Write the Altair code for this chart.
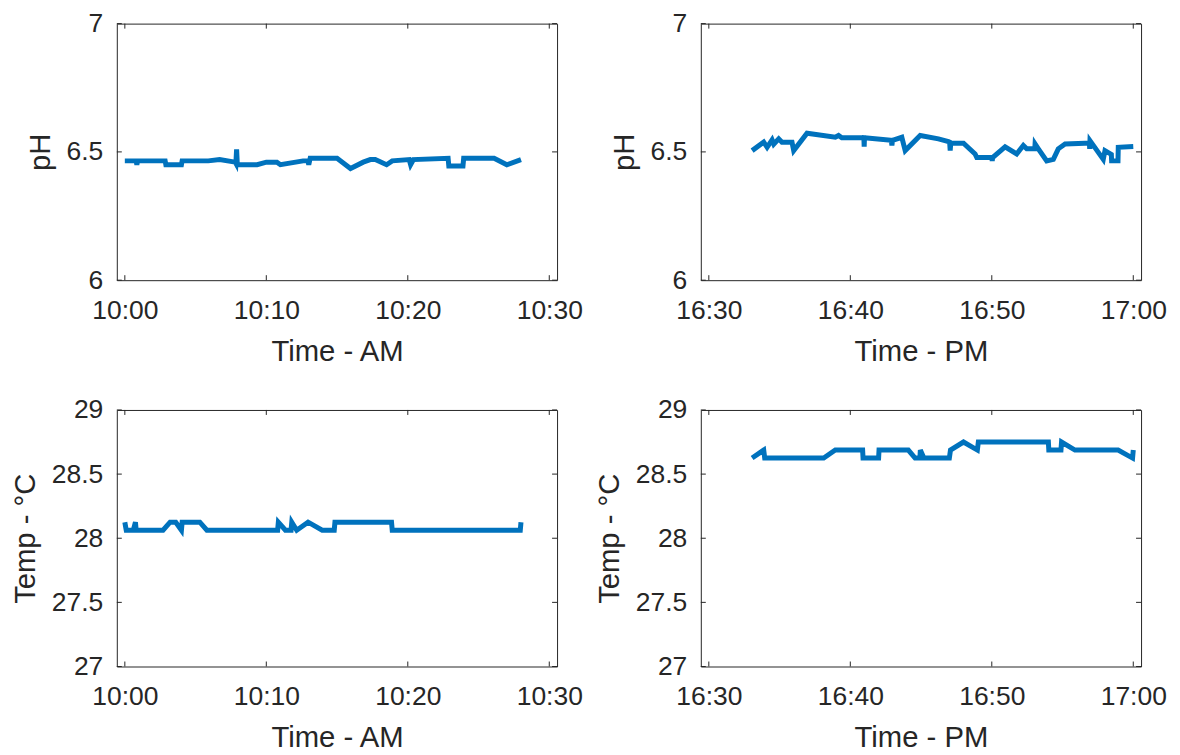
import altair as alt
import pandas as pd

# ---------------- data (minutes after start hour, values) ----------------
am_ticks = ["10:00", "10:10", "10:20", "10:30"]
pm_ticks = ["16:30", "16:40", "16:50", "17:00"]
ph_ticks = [6, 6.5, 7]
temp_ticks = [27, 27.5, 28, 28.5, 29]

am_ph_min = [0, 0.8, 0.85, 0.9, 2.85, 2.9, 4.0, 4.05, 5.9, 6.7, 7.8, 7.85, 7.9, 7.95,
             9.35, 10.0, 10.75, 11.0, 12.6, 12.95, 13.0, 13.1, 15.0, 15.95, 16.85, 17.35,
             17.7, 18.5, 18.9, 20.1, 20.2, 20.4, 22.85, 22.9, 23.9, 23.95, 26.1, 27.0, 28.0]
am_ph_val = [6.465, 6.465, 6.45, 6.465, 6.465, 6.45, 6.45, 6.465, 6.465, 6.47, 6.46, 6.455, 6.51, 6.45,
             6.45, 6.46, 6.46, 6.45, 6.465, 6.465, 6.45, 6.475, 6.475, 6.435, 6.46, 6.47,
             6.47, 6.45, 6.465, 6.47, 6.45, 6.47, 6.475, 6.445, 6.445, 6.475, 6.475, 6.45, 6.47]

pm_ph_min = [3.06, 3.88, 4.12, 4.47, 4.59, 4.94, 5.17, 5.88, 6.0, 6.94, 8.94, 9.17, 9.4,
             10.96, 10.98, 11.0, 12.9, 12.94, 12.98, 13.64, 13.88, 14.94, 16.23, 16.94,
             17.02, 17.06, 17.1, 18.0, 18.82, 18.94, 20.0, 20.03, 20.06, 20.94, 21.76,
             22.23, 22.47, 23.04, 23.06, 23.29, 23.88, 24.35, 24.7, 25.18, 26.59, 26.9,
             26.92, 26.94, 27.88, 28.0, 28.45, 28.47, 28.92, 28.94, 30.0]
pm_ph_val = [6.505, 6.538, 6.518, 6.547, 6.53, 6.551, 6.538, 6.538, 6.505, 6.573, 6.557, 6.564, 6.555,
             6.555, 6.52, 6.555, 6.545, 6.525, 6.545, 6.557, 6.505, 6.564, 6.551, 6.54,
             6.538, 6.505, 6.534, 6.534, 6.492, 6.478, 6.478, 6.465, 6.478, 6.52, 6.492,
             6.525, 6.512, 6.512, 6.531, 6.512, 6.465, 6.471, 6.512, 6.531, 6.534, 6.534,
             6.512, 6.544, 6.471, 6.505, 6.49, 6.465, 6.465, 6.518, 6.521]

am_temp_min = [0, 0.1, 0.6, 0.75, 0.8, 2.7, 3.2, 3.6, 4.0, 4.05, 5.3, 5.8, 10.8, 10.85,
               11.35, 11.75, 11.8, 12.15, 12.95, 13.95, 14.8, 14.85, 18.85, 18.9, 27.95, 28.0]
am_temp_val = [28.125, 28.0625, 28.0625, 28.125, 28.0625, 28.0625, 28.125, 28.125, 28.0625, 28.125,
               28.125, 28.0625, 28.0625, 28.125, 28.0625, 28.0625, 28.125, 28.0625, 28.125, 28.0625,
               28.0625, 28.125, 28.125, 28.0625, 28.0625, 28.125]

pm_temp_min = [3.06, 3.88, 3.95, 8.12, 8.94, 10.87, 10.9, 12.0, 12.03, 14.1, 14.58, 14.92,
               14.95, 15.2, 17.0, 17.08, 18.0, 18.98, 19.05, 24.0, 24.03, 24.89, 24.93,
               25.88, 28.93, 29.95, 30.0]
pm_temp_val = [28.625, 28.6875, 28.625, 28.625, 28.6875, 28.6875, 28.625, 28.625, 28.6875,
               28.6875, 28.625, 28.625, 28.6875, 28.625, 28.625, 28.6875, 28.75, 28.6875, 28.75,
               28.75, 28.6875, 28.6875, 28.75, 28.6875, 28.6875, 28.625, 28.6875]

# ---------------- styling ----------------
BLUE = "#0072BD"
AX = "#262626"
FONT = "Liberation Sans"
W, H = 441, 257
TICK = 5
DAY = "2020-01-01"


def stamp(base, m):
    ts = pd.Timestamp(f"{DAY} {base}") + pd.Timedelta(minutes=m)
    return ts.strftime("%Y-%m-%dT%H:%M:%S.%f")[:-3]


def dt(hhmm, sec_offset=0):
    ts = pd.Timestamp(f"{DAY} {hhmm}") + pd.Timedelta(seconds=sec_offset)
    return alt.DateTime(year=int(ts.year), month=int(ts.month), date=int(ts.day),
                        hours=int(ts.hour), minutes=int(ts.minute), seconds=int(ts.second))


def panel(base, mins, vals, ticks, ydom, yticks, ytitle, xtitle):
    df = pd.DataFrame({"t": [stamp(base, m) for m in mins], "v": vals})
    xscale = alt.Scale(domain=[dt(ticks[0], -34), dt(ticks[-1], 33)])
    yscale = alt.Scale(domain=ydom, zero=False, nice=False)
    xaxis = alt.Axis(values=[dt(t) for t in ticks], format="%H:%M", title=xtitle,
                     labelPadding=17, titlePadding=14)
    yaxis = alt.Axis(values=yticks, format="~g", title=ytitle,
                     labelPadding=14, titlePadding=11)
    bx = alt.X("t:T", scale=xscale, axis=xaxis)
    by = alt.Y("v:Q", scale=yscale, axis=yaxis)
    line = alt.Chart(df).mark_line(color=BLUE, strokeWidth=5, strokeJoin="miter").encode(
        x=bx, y=by,
    )
    xt = pd.DataFrame({"t": [stamp(t, 0) for t in ticks]})
    yt = pd.DataFrame({"v": yticks})
    rules = [
        alt.Chart(xt).mark_rule(color=AX, strokeWidth=1).encode(x=bx, y=alt.value(H), y2=alt.value(H - TICK)),
        alt.Chart(xt).mark_rule(color=AX, strokeWidth=1).encode(x=bx, y=alt.value(0), y2=alt.value(TICK)),
        alt.Chart(yt).mark_rule(color=AX, strokeWidth=1).encode(y=by, x=alt.value(0), x2=alt.value(TICK)),
        alt.Chart(yt).mark_rule(color=AX, strokeWidth=1).encode(y=by, x=alt.value(W - TICK), x2=alt.value(W)),
    ]
    return alt.layer(line, *rules).properties(width=W, height=H)


p1 = panel("10:00", am_ph_min, am_ph_val, am_ticks, [6, 7], ph_ticks, "pH", "Time - AM")
p2 = panel("16:30", pm_ph_min, pm_ph_val, pm_ticks, [6, 7], ph_ticks, "pH", "Time - PM")
p3 = panel("10:00", am_temp_min, am_temp_val, am_ticks, [27, 29], temp_ticks, "Temp - °C", "Time - AM")
p4 = panel("16:30", pm_temp_min, pm_temp_val, pm_ticks, [27, 29], temp_ticks, "Temp - °C", "Time - PM")

chart = alt.concat(
    p1, p2, p3, p4, columns=2, spacing={"row": 130, "column": 144}, bounds="flush"
).properties(
    padding={"left": 2, "top": 1, "right": 5, "bottom": 5},
    background="white",
).configure_view(
    stroke=AX, strokeWidth=1
).configure_axis(
    labelFont=FONT, labelFontSize=26.5, labelColor=AX,
    titleFont=FONT, titleFontSize=29.3, titleFontWeight="normal", titleColor=AX,
    domain=False, ticks=False, tickSize=0, grid=False,
    labelFlush=False, labelOverlap=False, labelBound=False,
)

chart.save("out.html", embed_options={"renderer": "svg", "actions": False})
